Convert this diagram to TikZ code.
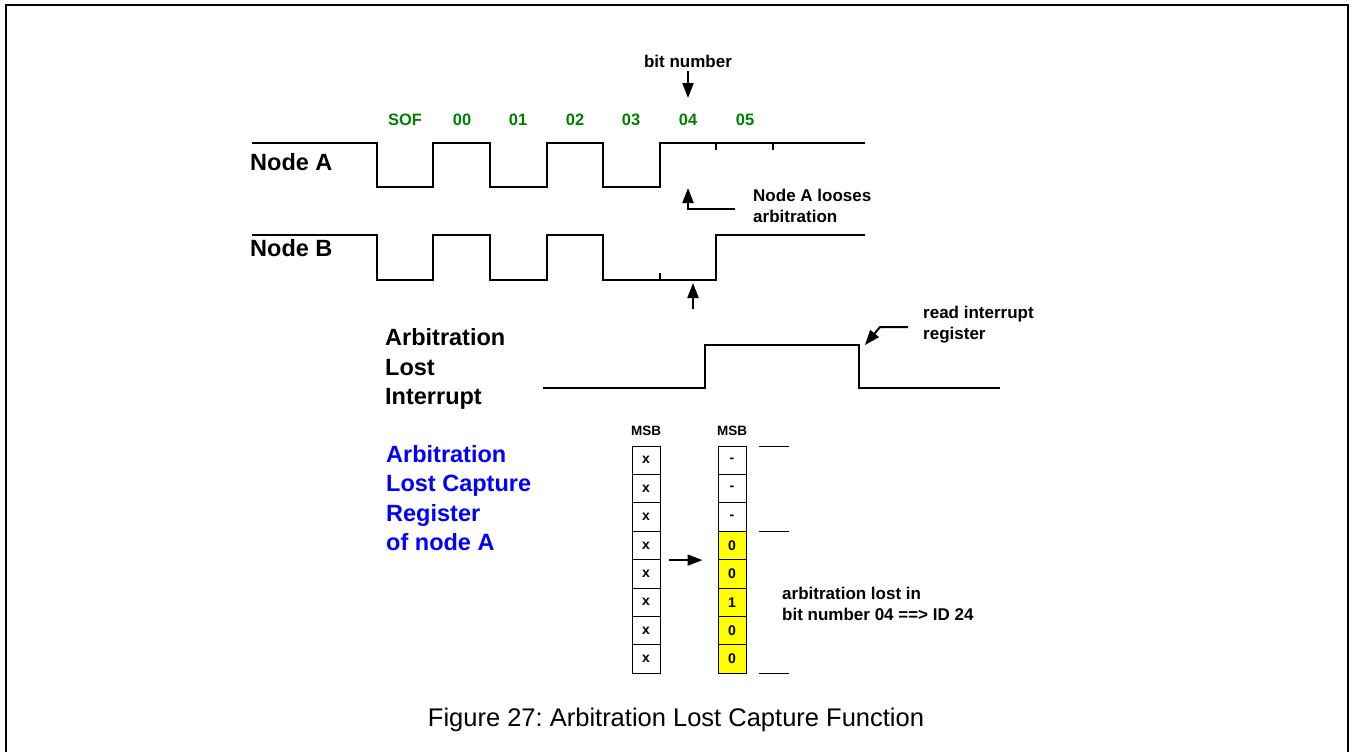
\documentclass[tikz,border=0pt]{standalone}
\usepackage{fontspec}
\setmainfont{Liberation Sans}
\usepackage{xcolor}
\usetikzlibrary{arrows.meta}
\definecolor{bitgreen}{RGB}{0,128,0}
\definecolor{regblue}{RGB}{0,0,255}
\definecolor{capyellow}{RGB}{255,255,0}
\frenchspacing

\tikzset{
  sig/.style={line width=2pt, line join=miter},
  bittick/.style={line width=1.2pt},
  arr/.style={line width=2pt, -{Triangle[length=15pt,width=11pt]}},
  siglbl/.style={font=\fontsize{23.5}{29.5}\selectfont\bfseries, align=left, anchor=west, inner sep=0pt},
  bitlbl/.style={font=\fontsize{16.5}{20}\selectfont\bfseries, text=bitgreen, inner sep=0pt},
  note/.style={font=\fontsize{17}{21}\selectfont\bfseries, align=left, anchor=west, inner sep=0pt},
  cell/.style={draw, line width=1pt, minimum width=28pt, minimum height=28.4pt, inner sep=0pt,
    font=\fontsize{14}{16}\selectfont\bfseries},
}

\begin{document}
\begin{tikzpicture}[x=1pt,y=-1pt]
\useasboundingbox (0,0) rectangle (1354,752);
\draw[line width=2.5pt] (6,752) -- (6,5) -- (1348,5) -- (1348,752);

% bit numbers
\node[note, anchor=center] (bitnum) at (688,61) {bit number};
\foreach \b/\x in {SOF/405,00/462,01/518,02/575,03/631,04/688,05/745}
  \node[bitlbl] (bit\b) at (\x,120) {\b};
\coordinate (bittip) at (688,98);
\draw[arr] ([yshift=-4pt]bitnum.south) -- (bittip);

% node A
\node[siglbl] (nodeA) at (250,162) {Node A};
\draw[sig] (252,143) -- (377,143) -- (377,187) -- (433,187) -- (433,143) -- (490,143) -- (490,187)
  -- (547,187) -- (547,143) -- (603,143) -- (603,187) -- (660,187) -- (660,143) -- (865,143);
\draw[bittick] (716,143) -- ++(0,7);
\draw[bittick] (773,143) -- ++(0,7);

\node[note] (loses) at (753,206) {Node A looses\\arbitration};
\coordinate (lossA) at (688,188);
\draw[arr] ([xshift=-18pt,yshift=-3pt]loses.west) -| (lossA);

% node B
\node[siglbl] (nodeB) at (250,248) {Node B};
\draw[sig] (252,235) -- (377,235) -- (377,280) -- (433,280) -- (433,235) -- (490,235) -- (490,280)
  -- (547,280) -- (547,235) -- (603,235) -- (603,280) -- (716,280) -- (716,235) -- (865,235);
\draw[bittick] (660,280) -- ++(0,-7);
\coordinate (bfoot) at (693,309);
\coordinate (bwin) at (693,283);
\draw[arr] (bfoot) -- (bwin);

% interrupt
\node[siglbl] (alint) at (385,369) {Arbitration\\Lost\\Interrupt};
\draw[sig] (543,388) -- (705,388) -- (705,345) -- (859,345) -- (859,388) -- (1000,388);
\node[note] (readint) at (923,325) {read interrupt\\register};
\coordinate (fallA) at (865,345);
\draw[arr] ([xshift=-15pt,yshift=-2pt]readint.west) -- ++(-28,0) -- (fallA);

% capture register
\node[siglbl, text=regblue] (alcap) at (386,498) {Arbitration\\Lost Capture\\Register\\of node A};
\node[font=\fontsize{13.5}{16}\selectfont\bfseries, inner sep=0pt] (msbA) at (646,431) {MSB};
\node[font=\fontsize{13.5}{16}\selectfont\bfseries, inner sep=0pt] (msbB) at (732,431) {MSB};
\foreach \i in {1,...,8}
  \node[cell] (la\i) at (646,446+28.4*\i-14.2) {x};
\foreach \v [count=\i] in {-,-,-}
  \node[cell] (cap\i) at (732,446+28.4*\i-14.2) {\v};
\foreach \v [count=\i from 4] in {0,0,1,0,0}
  \node[cell, fill=capyellow] (cap\i) at (732,446+28.4*\i-14.2) {\v};
\draw[arr] ([xshift=8pt]la4.south east) -- ([xshift=-15pt]cap4.south west);
\draw[line width=1pt] (759,446) -- (789,446);
\draw[line width=1pt] (759,531) -- (789,531);
\draw[line width=1pt] (759,673) -- (789,673);
\node[note] (lostin) at (782,604) {arbitration lost in\\bit number 04 ==> ID 24};

% caption
\node[font=\fontsize{25.5}{30}\selectfont, inner sep=0pt] (caption) at (676,720)
  {Figure 27: Arbitration Lost Capture Function};
\end{tikzpicture}
\end{document}
